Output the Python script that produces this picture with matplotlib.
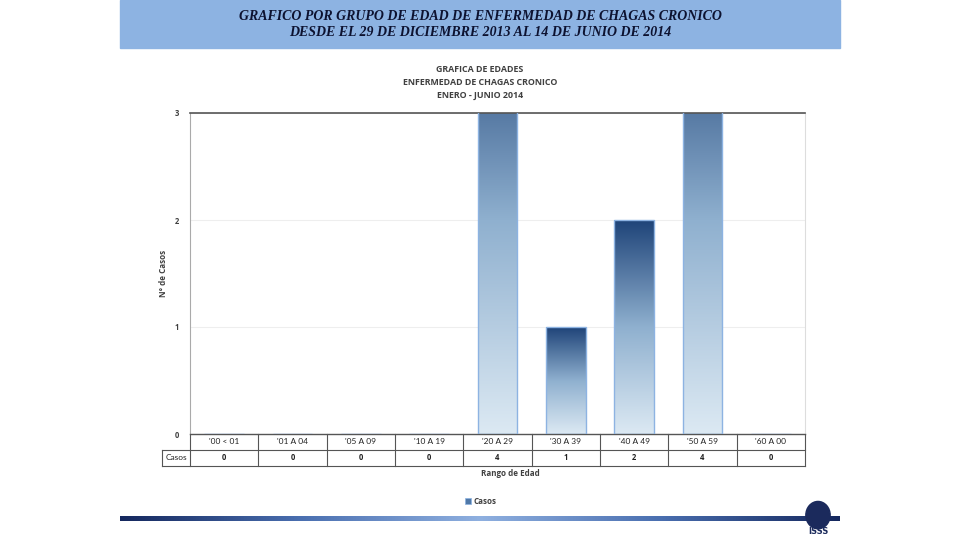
import numpy as np
import matplotlib.pyplot as plt
from matplotlib.colors import LinearSegmentedColormap
from matplotlib.patches import Rectangle, Circle

categorias = ["'00 < 01", "'01 A 04", "'05 A 09", "'10 A 19", "'20 A 29",
              "'30 A 39", "'40 A 49", "'50 A 59", "'60 A 00"]
casos = [0, 0, 0, 0, 4, 1, 2, 4, 0]

titulo = ["GRAFICO POR GRUPO DE EDAD DE ENFERMEDAD DE CHAGAS CRONICO",
          "DESDE EL 29 DE DICIEMBRE 2013 AL 14 DE JUNIO DE 2014"]
titulo_grafico = "GRAFICA DE EDADES\nENFERMEDAD DE CHAGAS CRONICO\nENERO - JUNIO 2014"

W, H = 960, 540
fig = plt.figure(figsize=(9.6, 5.4), dpi=100)
fig.patch.set_facecolor("white")
font = "Lato"
fontb = "Open Sans"
gris = "#404040"

# banda de encabezado
fig.patches.append(Rectangle((120 / W, 1 - 48 / H), 720 / W, 48 / H,
                             transform=fig.transFigure, color="#8DB3E2", zorder=0))
for txt, yy in zip(titulo, [17, 33]):
    fig.text(0.5, 1 - yy / H, txt, ha="center", va="center", family="Liberation Serif",
             style="italic", weight="bold", fontsize=10, color="#0d1230")

fig.text(480 / W, 1 - 82.5 / H, titulo_grafico, ha="center", va="center", family=fontb,
         weight="bold", fontsize=6.4, color=gris, linespacing=1.55)

# eje principal
x0, x1, y0, y1 = 190, 805, 113, 434
ax = fig.add_axes([x0 / W, 1 - y1 / H, (x1 - x0) / W, (y1 - y0) / H])
n = len(categorias)
ax.set_yticks([0, 1, 2, 3])
ax.set_xticks([])
ax.tick_params(axis="y", length=0, pad=8, labelsize=5.5, labelcolor=gris)
for lab in ax.get_yticklabels():
    lab.set_fontfamily(fontb)
    lab.set_fontweight("bold")
ax.grid(axis="y", color="#eeeeee", linewidth=0.8)
ax.set_axisbelow(True)
ax.spines["top"].set_color("#555555")
ax.spines["top"].set_linewidth(1.2)
ax.spines["left"].set_color("#aaaaaa")
ax.spines["right"].set_color("#dddddd")
ax.spines["bottom"].set_color("#555555")
ax.spines["bottom"].set_linewidth(1.0)
ax.set_ylabel("N° de Casos", family=fontb, weight="bold", fontsize=5.8, color=gris, labelpad=5)

# barras con degradado
cmap = LinearSegmentedColormap.from_list("azul", ["#dce9f3", "#8fb0cf", "#1f4479"])
grad = np.linspace(0, 1, 256).reshape(-1, 1)
bars = ax.bar(range(n), casos, width=0.58, color="none", edgecolor="#8DB3E2",
              linewidth=1.0, zorder=3)
for b, v in zip(bars, casos):
    if v <= 0:
        continue
    im = ax.imshow(grad, cmap=cmap, aspect="auto", origin="lower", zorder=2,
                   extent=[b.get_x(), b.get_x() + b.get_width(), 0, v])
    im.set_clip_path(b)
    im.set_clip_box(ax.bbox)
ax.set_xlim(-0.5, n - 0.5)
ax.set_ylim(0, 3)

# tabla de datos
tr = ax.get_xaxis_transform()
rh = 16 / (y1 - y0)
lc = dict(color="#555555", linewidth=0.8, clip_on=False, transform=tr)
xl = -0.5 - 28 / ((x1 - x0) / n)
ax.plot([-0.5, n - 0.5], [-rh, -rh], **lc)
ax.plot([xl, n - 0.5], [-2 * rh, -2 * rh], **lc)
ax.plot([xl, -0.5], [-rh, -rh], **lc)
ax.plot([xl, xl], [-rh, -2 * rh], **lc)
for i in range(n + 1):
    ax.plot([i - 0.5, i - 0.5], [0, -2 * rh], **lc)
for i, (c, v) in enumerate(zip(categorias, casos)):
    ax.text(i, -0.5 * rh, c, transform=tr, ha="center", va="center",
            family=font, fontsize=6, color="#222222")
    ax.text(i, -1.5 * rh, str(v), transform=tr, ha="center", va="center",
            family=fontb, fontsize=5.5, weight="bold", color="#222222")
ax.text((xl - 0.5) / 2, -1.5 * rh, "Casos", transform=tr, ha="center", va="center",
        family=font, fontsize=6, color="#222222")

fig.text(510 / W, 1 - 473 / H, "Rango de Edad", ha="center", va="center",
         family=fontb, weight="bold", fontsize=5.8, color=gris)

# leyenda
fig.patches.append(Rectangle((465 / W, 1 - 504 / H), 6 / W, 6 / H, transform=fig.transFigure,
                             facecolor="#4f78a8", edgecolor="#8DB3E2", linewidth=0.5))
fig.text(474 / W, 1 - 501 / H, "Casos", ha="left", va="center",
         family=fontb, weight="bold", fontsize=5.8, color=gris)

# barra inferior
bx = fig.add_axes([120 / W, 1 - 521 / H, 720 / W, 5 / H])
bcmap = LinearSegmentedColormap.from_list("bar", ["#15285e", "#4a6fb0", "#8fb0e0",
                                                  "#4a6fb0", "#15285e"])
bx.imshow(np.linspace(0, 1, 512).reshape(1, -1), cmap=bcmap, aspect="auto")
bx.axis("off")

# logotipo
lx = fig.add_axes([802 / W, 1 - 536 / H, 32 / W, 36 / H])
lx.set_xlim(0, 1)
lx.set_ylim(0, 1)
lx.axis("off")
lx.add_patch(Circle((0.5, 0.58), 0.38, color="#1b2a5c"))
lx.text(0.5, 0.12, "ISSS", ha="center", va="center", fontsize=6, weight="bold",
        color="#1b2a5c", family="DejaVu Sans")

fig.savefig("out.png", dpi=100)
